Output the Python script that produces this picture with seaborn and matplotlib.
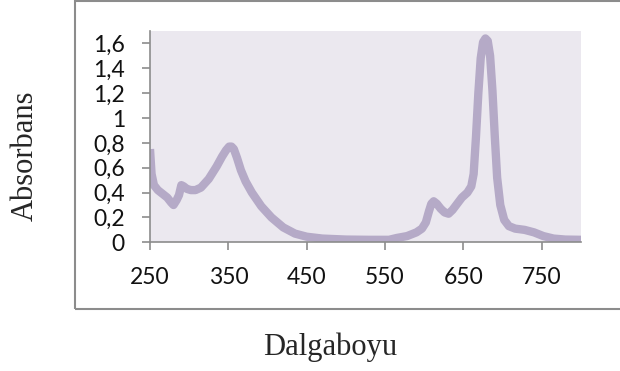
import matplotlib
matplotlib.use("Agg")
import matplotlib.pyplot as plt
from matplotlib.patches import Rectangle
from matplotlib.ticker import FuncFormatter
import pandas as pd
import seaborn as sns

# dalga boyu (nm) ve absorbans degerleri
dalgaboyu = [250, 252, 255, 260, 266, 272, 277, 280, 284, 287, 290, 293, 297,
             302, 308, 315, 325, 335, 342, 347, 351, 354, 357, 361, 366, 372,
             380, 392, 405, 420, 435, 450, 470, 500, 530, 555, 565, 578, 590,
             597, 602, 606, 609, 612, 616, 621, 626, 631, 636, 642, 648, 655,
             660, 663, 666, 669, 672, 675, 678, 681, 684, 687, 690, 693, 697,
             702, 708, 716, 728, 740, 752, 765, 780, 800]
absorbans = [0.75, 0.55, 0.46, 0.42, 0.39, 0.36, 0.32, 0.30, 0.34, 0.38, 0.46,
             0.45, 0.43, 0.42, 0.42, 0.44, 0.51, 0.61, 0.69, 0.74, 0.77, 0.77,
             0.75, 0.68, 0.58, 0.49, 0.40, 0.29, 0.20, 0.12, 0.07, 0.045, 0.03,
             0.022, 0.02, 0.02, 0.035, 0.05, 0.08, 0.11, 0.16, 0.25, 0.31,
             0.33, 0.31, 0.27, 0.24, 0.23, 0.26, 0.31, 0.36, 0.40, 0.45, 0.55,
             0.85, 1.20, 1.48, 1.61, 1.64, 1.62, 1.50, 1.22, 0.85, 0.52, 0.30,
             0.18, 0.13, 0.11, 0.10, 0.08, 0.05, 0.03, 0.022, 0.02]
yticks = [0, 0.2, 0.4, 0.6, 0.8, 1, 1.2, 1.4, 1.6]
xticks = [250, 350, 450, 550, 650, 750]

df = pd.DataFrame({'Dalgaboyu': dalgaboyu, 'Absorbans': absorbans})

sns.set_theme(style='white')
plt.rcParams['font.family'] = ['Lato', 'DejaVu Sans']

fig = plt.figure(figsize=(6.2, 3.71), dpi=100)
ax = fig.add_axes([150/620, 1 - 242.3/371, 431/620, 211.3/371])

sns.lineplot(data=df, x='Dalgaboyu', y='Absorbans', ax=ax, color='#b5aac7',
             linewidth=6, solid_capstyle='butt', solid_joinstyle='round')

ax.set_facecolor('#ebe8ef')
ax.set_xlim(250, 800)
ax.set_ylim(0, 1.70)
ax.set_xticks(xticks)
ax.set_yticks(yticks)
ax.yaxis.set_major_formatter(FuncFormatter(lambda v, p: f'{v:g}'.replace('.', ',')))
ax.tick_params(axis='both', which='major', labelsize=16.5, length=6, width=1.2,
               color='#8c8c8c', direction='out', bottom=True, left=True,
               labelcolor='#111111')
ax.tick_params(axis='y', pad=12)
ax.tick_params(axis='x', pad=12)
for s in ['top', 'right']:
    ax.spines[s].set_visible(False)
for s in ['left', 'bottom']:
    ax.spines[s].set_color('#8c8c8c')
    ax.spines[s].set_linewidth(1.2)
ax.set_xlabel('')
ax.set_ylabel('')

# cuadro alrededor del grafico
fig.patches.append(Rectangle((74.5/620, 1 - 309/371), 560/620, 308/371,
                             transform=fig.transFigure, fill=False,
                             edgecolor='#8c8c8c', linewidth=1.5))

fig.text(330/620, 1 - 347/371, 'Dalgaboyu', family='Liberation Serif',
         fontsize=22, ha='center', va='center')
fig.text(25/620, 1 - 156/371, 'Absorbans', family='Liberation Serif',
         fontsize=22, ha='center', va='center', rotation=90)

fig.savefig('out.png', dpi=100)
